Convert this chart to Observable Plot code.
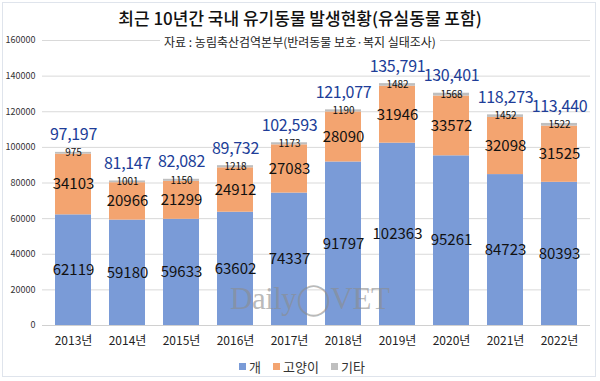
<!DOCTYPE html>
<html>
<head>
<meta charset="utf-8">
<script src="https://cdn.jsdelivr.net/npm/d3@7"></script>
<script src="https://cdn.jsdelivr.net/npm/@observablehq/plot@0.6"></script>
<style>
  html, body { margin: 0; padding: 0; background: #fff; }
  body { font-family: "Noto Sans CJK KR", "Noto Sans", sans-serif; }
  #wrap { position: relative; width: 600px; height: 381px; overflow: hidden; background: #fff; }
  #frame { position: absolute; left: 2px; top: 2px; width: 594px; height: 375px; border: 1px solid #dfe4ec; box-sizing: border-box; pointer-events: none; }
  #title { position: absolute; left: 0; top: 5px; width: 600px; text-align: center; font-size: 17px; font-weight: 500; color: #111; }
  #subtitle { position: absolute; left: 0; top: 33px; width: 600px; text-align: center; font-size: 12px; color: #222; }
  #subtitle span { background: #fff; padding: 0 4px; }
  #chart { position: absolute; left: 0; top: 0; }
  #legend { position: absolute; left: 0; top: 357px; width: 600px; display: flex; justify-content: center; gap: 12px; font-size: 13px; color: #333; padding-left: 4px; box-sizing: border-box; }
  #legend .item { display: flex; align-items: center; gap: 3px; }
  #legend .sw { width: 7px; height: 7px; display: inline-block; }
  #wm { position: absolute; left: 230px; top: 280px; font-family: "Liberation Serif", "DejaVu Serif", serif; font-size: 31px; color: rgba(140,140,140,0.6); letter-spacing: -0.5px; pointer-events: none; }
  .tot text { letter-spacing: -0.3px; }
</style>
</head>
<body>
<div id="wrap">
  <div id="chart"></div>
  <div id="title">최근 10년간 국내 유기동물 발생현황(유실동물 포함)</div>
  <div id="subtitle"><span>자료 : 농림축산검역본부(반려동물 보호·복지 실태조사)</span></div>
  <div id="wm">Daily◯VET</div>
  <div id="legend"></div>
  <div id="frame"></div>
</div>
<script>
const years = ["2013년","2014년","2015년","2016년","2017년","2018년","2019년","2020년","2021년","2022년"];
const dogs = [62119, 59180, 59633, 63602, 74337, 91797, 102363, 95261, 84723, 80393];
const cats = [34103, 20966, 21299, 24912, 27083, 28090, 31946, 33572, 32098, 31525];
const others = [975, 1001, 1150, 1218, 1173, 1190, 1482, 1568, 1452, 1522];
const totals = [97197, 81147, 82082, 89732, 102593, 121077, 135791, 130401, 118273, 113440];
const seriesNames = ["개", "고양이", "기타"];
const seriesColors = ["#7a9bd7", "#f3a470", "#bfbfbf"];
const yTicks = [0, 20000, 40000, 60000, 80000, 100000, 120000, 140000, 160000];

const seriesValues = [dogs, cats, others];
const data = years.flatMap((y, i) => seriesNames.map((s, k) => ({year: y, type: s, value: seriesValues[k][i]})));
const totalData = years.map((y, i) => ({year: y, total: totals[i]}));

const chart = Plot.plot({
  width: 600,
  height: 350,
  marginTop: 40,
  marginBottom: 25,
  marginLeft: 42,
  marginRight: 10,
  style: {fontFamily: '"Noto Sans CJK KR", "Noto Sans", sans-serif', background: "transparent"},
  x: {domain: years, paddingInner: 0.33, paddingOuter: 0.15, label: null},
  y: {domain: [0, 160000], label: null},
  color: {domain: seriesNames, range: seriesColors},
  marks: [
    Plot.gridY(yTicks, {stroke: "#d9d9d9", strokeOpacity: 1}),
    Plot.axisY(yTicks, {tickSize: 0, tickPadding: 7, tickFormat: d => String(d), fontSize: 9, fill: "#333", label: null}),
    Plot.axisX({tickSize: 0, tickPadding: 11, fontSize: 12, fill: "#222", label: null}),
    Plot.barY(data, {x: "year", y: "value", fill: "type", order: seriesNames}),
    Plot.ruleY([0], {stroke: "#d0d0d0"}),
    Plot.text(data, Plot.stackY({
      x: "year", y: "value", z: "type", order: seriesNames,
      text: d => String(d.value),
      fontSize: d => d.type === "기타" ? 10 : 15,
      fill: "#111"
    })),
    Plot.text(totalData, {x: "year", y: "total", text: d => d3.format(",")(d.total), dy: -17, fontSize: 16, fill: "#203d98", className: "tot"})
  ]
});
document.getElementById("chart").appendChild(chart);

const legend = document.getElementById("legend");
seriesNames.forEach((s, k) => {
  const it = document.createElement("div");
  it.className = "item";
  const sw = document.createElement("span");
  sw.className = "sw";
  sw.style.background = seriesColors[k];
  const t = document.createElement("span");
  t.textContent = s;
  it.appendChild(sw);
  it.appendChild(t);
  legend.appendChild(it);
});
</script>
</body>
</html>
